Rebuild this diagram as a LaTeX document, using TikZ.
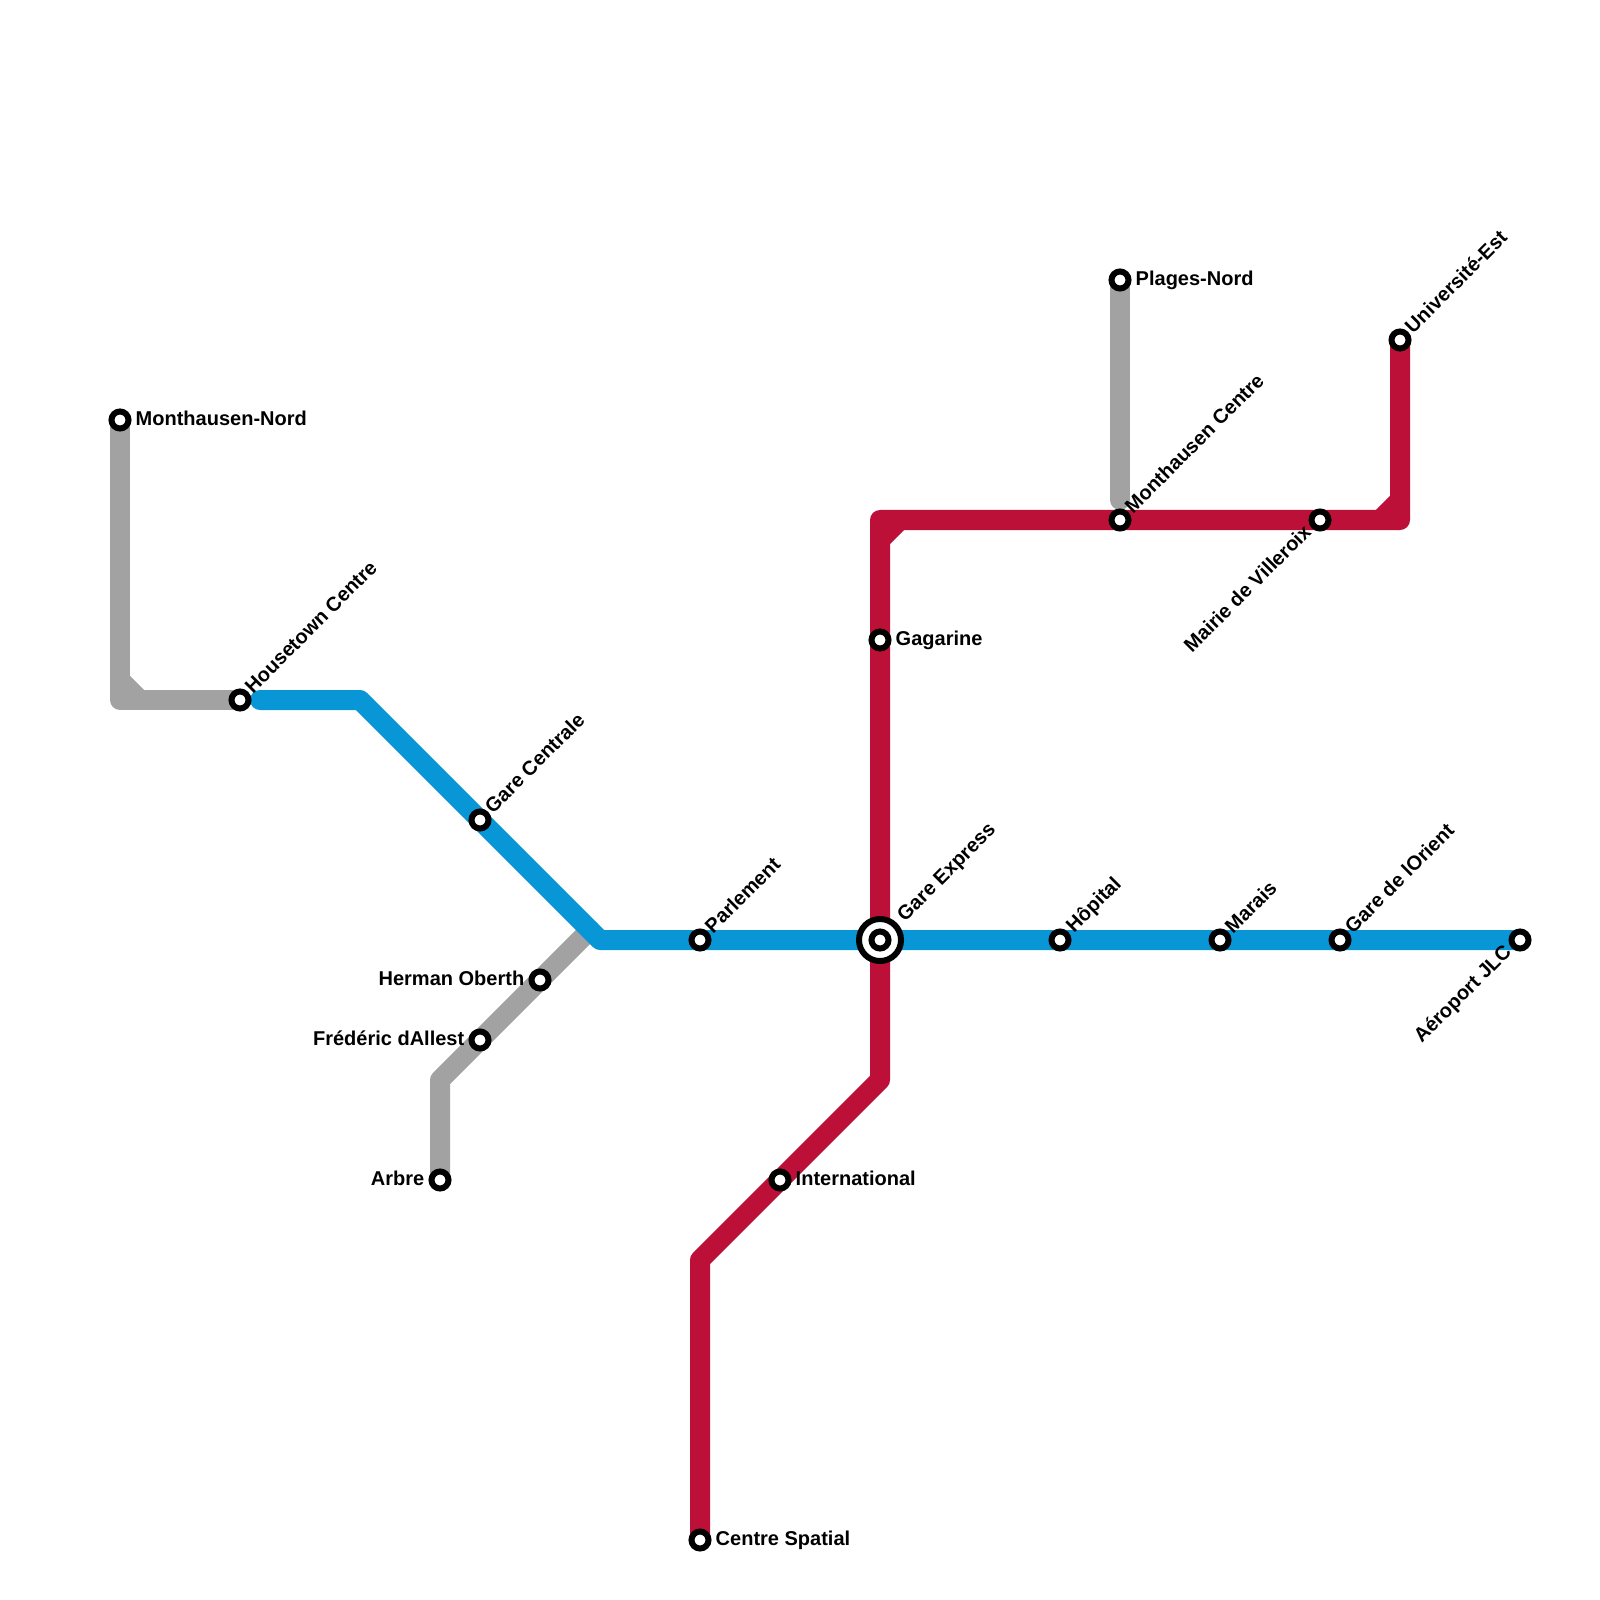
\documentclass[tikz,border=0pt]{standalone}
\usepackage{fontspec}
\setmainfont{Liberation Sans}
\usetikzlibrary{positioning, backgrounds}
\definecolor{linegray}{HTML}{A2A2A2}
\definecolor{linered}{HTML}{BD1038}
\definecolor{lineblue}{HTML}{0896D7}

\begin{document}
\begin{tikzpicture}[
  x=0.01cm, y=-0.01cm,
  stn/.style={circle, draw=black, fill=white, line width=0.06cm, minimum size=0.17cm, inner sep=0pt},
  hub/.style={circle, draw=black, fill=white, line width=0.06cm, minimum size=0.42cm, inner sep=0pt},
  metro/.style={line width=0.2cm, line join=round, line cap=round},
  lbl/.style={font=\fontsize{5.69}{7}\selectfont\bfseries, inner sep=0pt, text=black, text height=4.2pt, text depth=1.2pt},
  lblr/.style={lbl, anchor=west},
  lbll/.style={lbl, anchor=east},
  lblne/.style={lbl, anchor=west, rotate=45},
  lblsw/.style={lbl, anchor=east, rotate=45},
]
  \path[use as bounding box] (0,0) rectangle (1600,1600);

  \coordinate (graya) at (120,700);
  \coordinate (grayb) at (120,680);
  \coordinate (grayc) at (140,700);
  \coordinate (grayd) at (440,1080);
  \coordinate (graye) at (590,930);
  \coordinate (grayf) at (1120,500);
  \coordinate (reda) at (700,1260);
  \coordinate (redb) at (880,1080);
  \coordinate (redc) at (880,520);
  \coordinate (redd) at (880,540);
  \coordinate (rede) at (900,520);
  \coordinate (redf) at (1400,520);
  \coordinate (redg) at (1380,520);
  \coordinate (redh) at (1400,500);
  \coordinate (bluea) at (260,700);
  \coordinate (blueb) at (360,700);
  \coordinate (bluec) at (600,940);

  \node[stn] (montnord) at (120,420) {};
  \node[stn] (house) at (240,700) {};
  \node[stn] (garecent) at (480,820) {};
  \node[stn] (oberth) at (540,980) {};
  \node[stn] (allest) at (480,1040) {};
  \node[stn] (arbre) at (440,1180) {};
  \node[stn] (parl) at (700,940) {};
  \node[stn] (inter) at (780,1180) {};
  \node[stn] (spatial) at (700,1540) {};
  \node[hub] (expresshub) at (880,940) {};
  \node[stn] (express) at (880,940) {};
  \node[stn] (gagarine) at (880,640) {};
  \node[stn] (hopital) at (1060,940) {};
  \node[stn] (marais) at (1220,940) {};
  \node[stn] (orient) at (1340,940) {};
  \node[stn] (aeroport) at (1520,940) {};
  \node[stn] (plages) at (1120,280) {};
  \node[stn] (montcent) at (1120,520) {};
  \node[stn] (mairie) at (1320,520) {};
  \node[stn] (univ) at (1400,340) {};

  \begin{scope}[on background layer]
    \draw[metro, linegray] (montnord.center) -- (graya) -- (house.center);
    \draw[metro, linegray] (grayb) -- (grayc);
    \draw[metro, linegray] (arbre.center) -- (grayd) -- (graye);
    \draw[metro, linegray] (plages.center) -- (grayf);
    \draw[metro, linered] (spatial.center) -- (reda) -- (redb) -- (redc) -- (redf) -- (univ.center);
    \draw[metro, linered] (redd) -- (rede);
    \draw[metro, linered] (redg) -- (redh);
    \draw[metro, lineblue] (bluea) -- (blueb) -- (bluec) -- (aeroport.center);
  \end{scope}

  \node[lblr, right=0.15cm of montnord.center] (montnordlbl) {Monthausen-Nord};
  \node[lblr, right=0.15cm of plages.center] (plageslbl) {Plages-Nord};
  \node[lblr, right=0.15cm of gagarine.center] (gagarinelbl) {Gagarine};
  \node[lblr, right=0.15cm of inter.center] (interlbl) {International};
  \node[lblr, right=0.15cm of spatial.center] (spatiallbl) {Centre Spatial};
  \node[lbll, left=0.15cm of arbre.center] (arbrelbl) {Arbre};
  \node[lbll, left=0.15cm of oberth.center] (oberthlbl) {Herman Oberth};
  \node[lbll, left=0.15cm of allest.center] (allestlbl) {Frédéric dAllest};

  \node[lblne] (houselbl) at ([shift={(9,-9)}]house.center) {Housetown Centre};
  \node[lblne] (garecentlbl) at ([shift={(9,-9)}]garecent.center) {Gare Centrale};
  \node[lblne] (parllbl) at ([shift={(9,-9)}]parl.center) {Parlement};
  \node[lblne] (expresslbl) at ([shift={(21,-21)}]express.center) {Gare Express};
  \node[lblne] (hopitallbl) at ([shift={(10,-10)}]hopital.center) {Hôpital};
  \node[lblne] (maraislbl) at ([shift={(9,-9)}]marais.center) {Marais};
  \node[lblne] (orientlbl) at ([shift={(9,-9)}]orient.center) {Gare de lOrient};
  \node[lblne] (montcentlbl) at ([shift={(9,-9)}]montcent.center) {Monthausen Centre};
  \node[lblne] (univlbl) at ([shift={(9,-9)}]univ.center) {Université-Est};
  \node[lblsw] (mairielbl) at ([shift={(-11,9)}]mairie.center) {Mairie de Villeroix};
  \node[lblsw] (aeroportlbl) at ([shift={(-11,9)}]aeroport.center) {Aéroport JLC};
\end{tikzpicture}
\end{document}
